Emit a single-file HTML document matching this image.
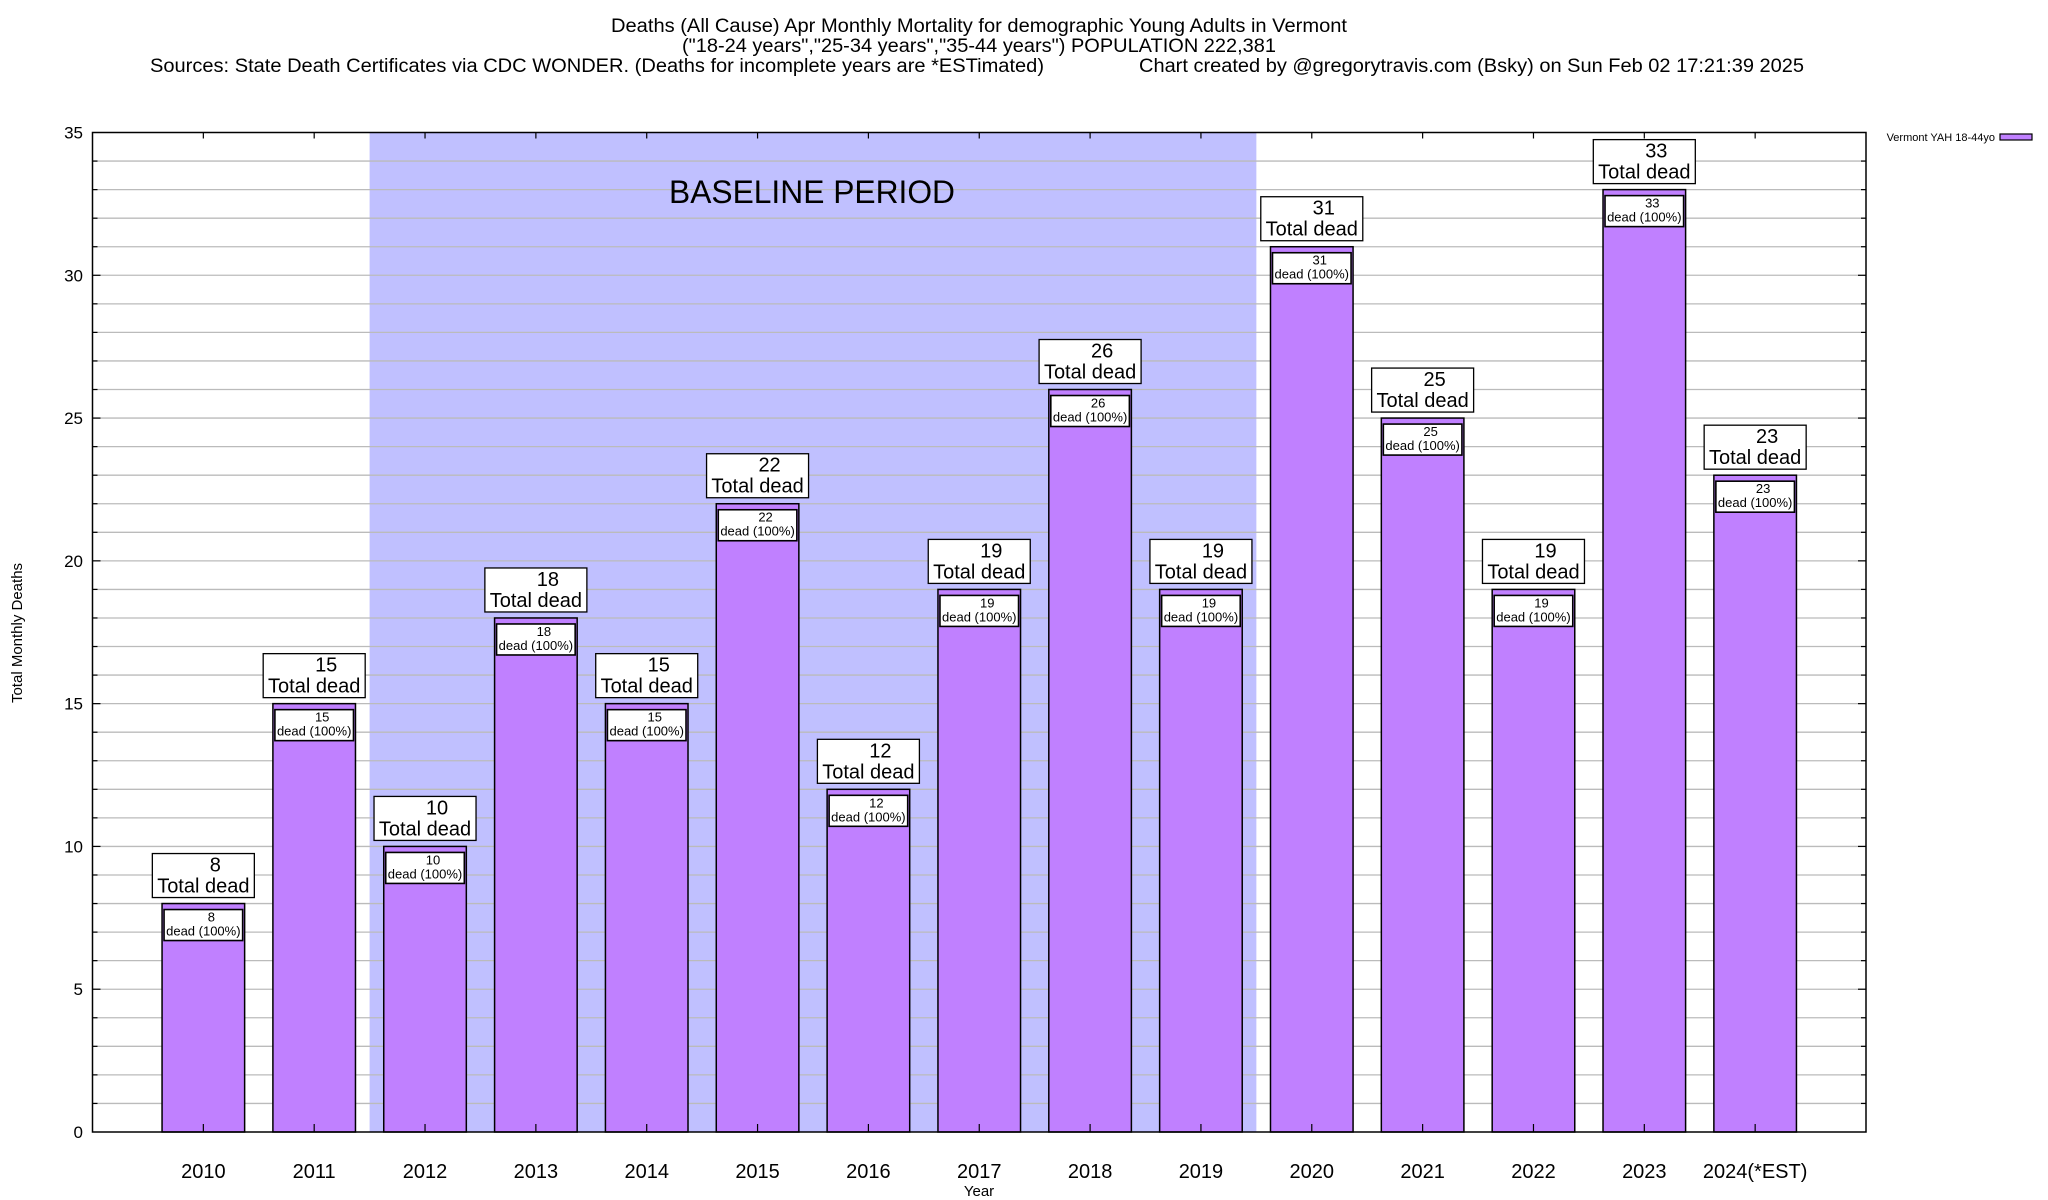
<!DOCTYPE html>
<html><head><meta charset="utf-8"><style>
html,body{margin:0;padding:0;background:#fff;}
svg{display:block;font-family:"Liberation Sans",sans-serif;}
</style></head><body>
<svg id="chart" width="2048" height="1200" viewBox="0 0 2048 1200" xmlns="http://www.w3.org/2000/svg">
<g>
<text x="611" y="32" font-size="19" textLength="736" lengthAdjust="spacingAndGlyphs">Deaths (All Cause) Apr Monthly Mortality for demographic Young Adults in Vermont</text>
<text x="682" y="52" font-size="19" textLength="594" lengthAdjust="spacingAndGlyphs">("18-24 years","25-34 years","35-44 years") POPULATION 222,381</text>
<text x="150" y="72" font-size="19" textLength="894" lengthAdjust="spacingAndGlyphs">Sources: State Death Certificates via CDC WONDER. (Deaths for incomplete years are *ESTimated)</text>
<text x="1139" y="72" font-size="19" textLength="665" lengthAdjust="spacingAndGlyphs">Chart created by @gregorytravis.com (Bsky) on Sun Feb 02 17:21:39 2025</text>
</g>
<g id="plot"></g>
<text x="0" y="0" font-size="15" text-anchor="middle" transform="translate(22,633) rotate(-90)">Total Monthly Deaths</text>
<text x="979" y="1196" font-size="15" text-anchor="middle">Year</text>
<g>
<text x="1995" y="141" font-size="11" text-anchor="end">Vermont YAH 18-44yo</text>
<rect x="2000" y="134" width="32" height="6" fill="#c080ff" stroke="#000" stroke-width="1.2"/>
</g>
</svg>
<script>
const categories = ["2010","2011","2012","2013","2014","2015","2016","2017","2018","2019","2020","2021","2022","2023","2024(*EST)"];
const deaths = [8,15,10,18,15,22,12,19,26,19,31,25,19,33,23];
const yTicks = [0,5,10,15,20,25,30,35];
const baselineRange = [1.5, 9.5];

const L=92.5, R=1866, T=132.5, B=1132;
const xMin=-1, xMax=15, yMax=35;
const xs = i => L + (i - xMin) / (xMax - xMin) * (R - L);
const ys = v => B - v / yMax * (B - T);
const NS="http://www.w3.org/2000/svg";
const plot=document.getElementById('plot');
function mk(tag, attrs, parent){const e=document.createElementNS(NS,tag);for(const k in attrs)e.setAttribute(k,attrs[k]);(parent||plot).appendChild(e);return e;}

const bp=mk('rect',{x:xs(baselineRange[0]),y:T,width:xs(baselineRange[1])-xs(baselineRange[0]),height:B-T,fill:'#c0c0ff'});



for(let v=1;v<yMax;v++){
  const g=mk('line',{x1:L,x2:R,y1:ys(v),y2:ys(v),stroke:'#bbbbbb','stroke-width':1.3});
  
  
  const major = v%5===0;
  mk('line',{x1:L,x2:L+(major?8:5),y1:ys(v),y2:ys(v),stroke:'#000','stroke-width':1.2});
  mk('line',{x1:R,x2:R-(major?8:5),y1:ys(v),y2:ys(v),stroke:'#000','stroke-width':1.2});
}
const bl=mk('text',{x:669,y:203,'font-size':32,textLength:286,lengthAdjust:'spacingAndGlyphs'});
bl.textContent='BASELINE PERIOD';



yTicks.forEach(v=>{
  const t=mk('text',{x:83,y:ys(v)+6,'font-size':17,'text-anchor':'end'});
  t.textContent=v;
  
  
});

const bw=0.745*(xs(1)-xs(0));
categories.forEach((c,i)=>{
  const cx=xs(i), v=deaths[i], top=ys(v);
  const g=mk('g',{});
  
  
  mk('rect',{x:cx-bw/2,y:top,width:bw,height:B-top,fill:'#c080ff',stroke:'#000','stroke-width':1.5},g);
  mk('rect',{x:cx-bw/2+2,y:top+6,width:bw-4,height:31,fill:'#fff',stroke:'#000','stroke-width':1.6},g);
  const n=mk('text',{x:cx+8,y:top+18,'font-size':13,'text-anchor':'middle'},g); n.textContent=v;
  const d=mk('text',{x:cx,y:top+32,'font-size':13,'text-anchor':'middle'},g); d.textContent='dead (100%)';
  const lb=mk('g',{});
  
  
  mk('rect',{x:cx-51,y:top-50,width:102,height:44,fill:'#fff',stroke:'#000','stroke-width':1.3},lb);
  const t1=mk('text',{x:cx+12,y:top-32,'font-size':20,'text-anchor':'middle'},lb); t1.textContent=v;
  const t2=mk('text',{x:cx,y:top-11,'font-size':20,'text-anchor':'middle'},lb); t2.textContent='Total dead';
  mk('line',{x1:cx,x2:cx,y1:B,y2:B-8,stroke:'#000','stroke-width':1.2});
  mk('line',{x1:cx,x2:cx,y1:T,y2:T+6,stroke:'#000','stroke-width':1.2});
  const xl=mk('text',{x:cx,y:1178,'font-size':20,'text-anchor':'middle'});
  xl.textContent=c;
  
  
});
const fr=mk('rect',{x:L,y:T,width:R-L,height:B-T,fill:'none',stroke:'#000','stroke-width':1.5});


</script>
</body></html>
